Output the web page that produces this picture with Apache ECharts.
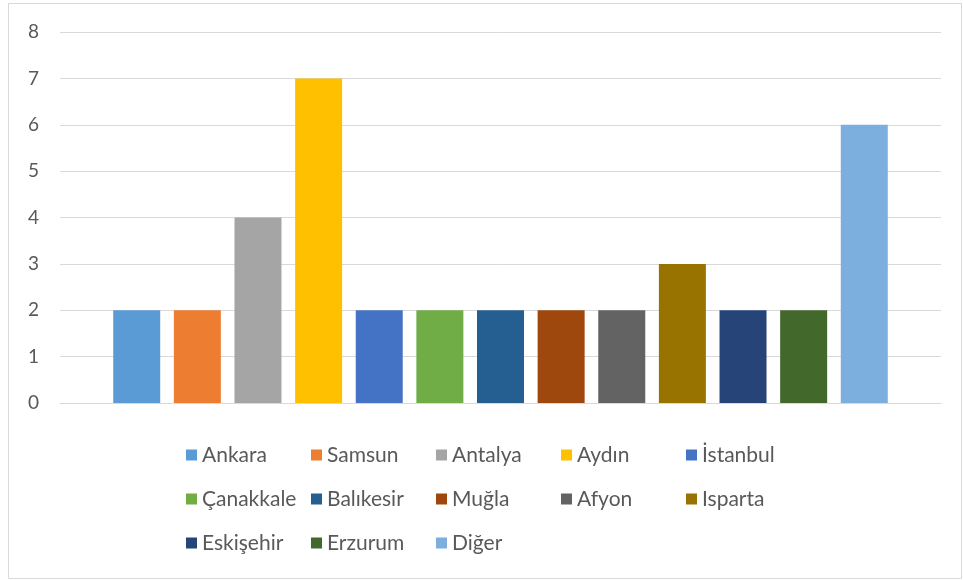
<!DOCTYPE html>
<html>
<head>
<meta charset="utf-8">
<script src="https://cdn.jsdelivr.net/npm/echarts@6/dist/echarts.min.js"></script>
<style>
  html, body { margin: 0; padding: 0; background: #fff; }
  #chart { width: 963px; height: 580px; }
</style>
</head>
<body>
<div id="chart"></div>
<script>
// one bar per city
var cities = ['Ankara', 'Samsun', 'Antalya', 'Aydın', 'İstanbul', 'Çanakkale', 'Balıkesir',
              'Muğla', 'Afyon', 'Isparta', 'Eskişehir', 'Erzurum', 'Diğer'];
var counts = [2, 2, 4, 7, 2, 2, 2, 2, 2, 3, 2, 2, 6];
var yTicks = [0, 1, 2, 3, 4, 5, 6, 7, 8];

// office palette
var palette = ['#5B9BD5', '#ED7D31', '#A5A5A5', '#FFC000', '#4472C4', '#70AD47', '#255E91',
               '#9E480E', '#636363', '#997300', '#264478', '#43682B', '#7CAFDD'];

var textColor = '#595959';
var lineColor = '#D9D9D9';

var series = cities.map(function (name, i) {
  return {
    name: name,
    type: 'bar',
    data: [counts[i]],
    barWidth: 47,
    barGap: '29%',
    itemStyle: { color: palette[i] },
    silent: true
  };
});

var chart = echarts.init(document.getElementById('chart'));
chart.setOption({
  animation: false,
  grid: { left: 60, right: 22, top: 32, bottom: 177 },
  graphic: [{
    type: 'rect',
    shape: { x: 8.5, y: 3.5, width: 953, height: 575 },
    style: { fill: 'none', stroke: lineColor, lineWidth: 1 },
    z: -1
  }],
  xAxis: {
    type: 'category',
    data: [''],
    axisTick: { show: false },
    axisLabel: { show: false },
    axisLine: { lineStyle: { color: lineColor, width: 1 } }
  },
  yAxis: {
    type: 'value',
    min: yTicks[0],
    max: yTicks[yTicks.length - 1],
    interval: 1,
    axisLine: { show: false },
    axisTick: { show: false },
    axisLabel: { color: textColor, fontFamily: 'Lato', fontSize: 19, margin: 21 },
    splitLine: { lineStyle: { color: lineColor, width: 1 } }
  },
  legend: {
    data: cities,
    left: 186,
    top: 440,
    width: 620,
    padding: 0,
    itemWidth: 11,
    itemHeight: 11,
    itemGap: 14,
    icon: 'rect',
    selectedMode: false,
    textStyle: {
      color: textColor,
      fontFamily: 'Lato',
      fontSize: 21,
      width: 95,
      height: 30,
      lineHeight: 30
    }
  },
  series: series
});
</script>
</body>
</html>
